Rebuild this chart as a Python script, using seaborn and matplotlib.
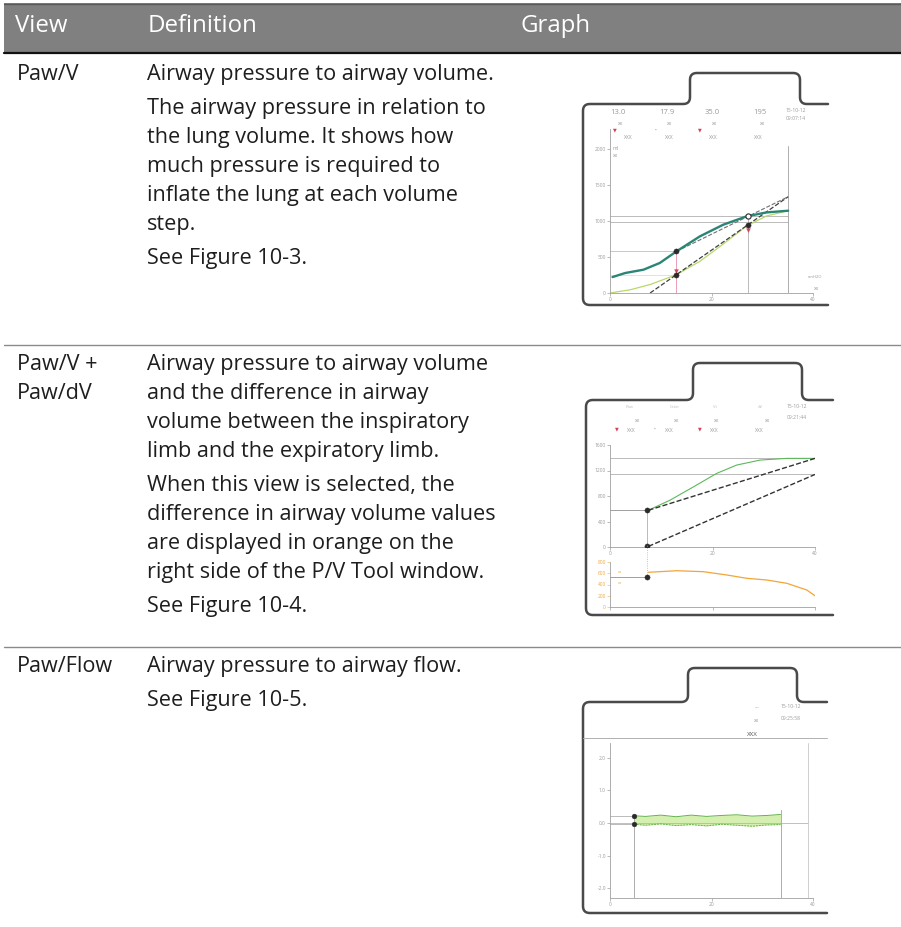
import numpy as np
import matplotlib.pyplot as plt
import seaborn as sns
from matplotlib.patches import Rectangle

sns.set_theme(style="white")
plt.rcParams['font.family'] = ['Open Sans', 'DejaVu Sans']

W, H = 901, 927

# ---- table text ----
header_labels = ["View", "Definition", "Graph"]
view_labels = [["Paw/V"], ["Paw/V +", "Paw/dV"], ["Paw/Flow"]]
definitions = [
    [["Airway pressure to airway volume."],
     ["The airway pressure in relation to", "the lung volume. It shows how",
      "much pressure is required to", "inflate the lung at each volume", "step."],
     ["See Figure 10-3."]],
    [["Airway pressure to airway volume", "and the difference in airway",
      "volume between the inspiratory", "limb and the expiratory limb."],
     ["When this view is selected, the", "difference in airway volume values",
      "are displayed in orange on the", "right side of the P/V Tool window."],
     ["See Figure 10-4."]],
    [["Airway pressure to airway flow."],
     ["See Figure 10-5."]],
]

# ---- graph 1: Paw/V ----
pv_teal_x = [0.5, 3.0, 6.6, 9.8, 13.1, 17.7, 22.3, 26.9, 30.8, 35.1]
pv_teal_y = [222, 278, 324, 417, 579, 787, 949, 1065, 1120, 1144]
pv_green_x = [0.0, 4.0, 8.0, 13.1, 17.7, 22.3, 26.9, 30.8, 35.1]
pv_green_y = [0, 45, 120, 255, 440, 680, 930, 1070, 1144]
pv_dash_lo_x = [7.9, 35.1]
pv_dash_lo_y = [0, 1338]
pv_dash_hi_x = [13.1, 35.1]
pv_dash_hi_y = [579, 1338]
pv_mark_x = [13.1, 13.1, 27.2]
pv_mark_y = [579, 255, 949]
pv_open_x = [27.2]
pv_open_y = [1065]
pv_red_x = [13.1, 27.2]
pv_red_y = [300, 880]
pv_cursor_x = 35.0
pv_hlines = [1065, 981]
pv_yticks = [0, 500, 1000, 1500, 2000]
pv_values = ["13.0", "17.9", "35.0", "195"]
pv_date = ["15-10-12", "09:07:14"]

# ---- graph 2: Paw/V + Paw/dV ----
dv_green_x = [7.5, 11.7, 16.3, 20.8, 24.7, 29.3, 34.5, 40.0]
dv_green_y = [577, 734, 944, 1154, 1285, 1364, 1390, 1390]
dv_dash1_x = [7.5, 40.0]
dv_dash1_y = [577, 1390]
dv_dash2_x = [7.5, 40.0]
dv_dash2_y = [10, 1138]
dv_mark_x = [7.2, 7.2]
dv_mark_y = [577, 10]
dv_hlines = [1390, 1144]
dv_yticks = [0, 400, 800, 1200, 1600]
dv_orange_x = [7.5, 13.0, 18.2, 22.8, 26.7, 30.6, 34.5, 38.4, 40.0]
dv_orange_y = [617, 645, 628, 569, 510, 480, 421, 302, 200]
dv_orange_mark = (7.2, 528)
dv_orange_ticks = [0, 200, 400, 600, 800]
dv_date = ["15-10-12", "09:21:44"]

# ---- graph 3: Paw/Flow ----
fl_x = [4.7, 7.0, 10.0, 13.0, 16.0, 19.0, 22.0, 25.0, 28.0, 31.0, 33.6]
fl_upper = [0.22, 0.20, 0.24, 0.19, 0.24, 0.20, 0.23, 0.25, 0.21, 0.23, 0.26]
fl_lower = [-0.04, -0.07, -0.03, -0.08, -0.05, -0.09, -0.04, -0.07, -0.10, -0.06, -0.05]
fl_yticks = [-2.0, -1.0, 0.0, 1.0, 2.0]
fl_date = ["15-10-12", "09:25:58"]

xticks = [0, 20, 40]

fig = plt.figure(figsize=(W / 100, H / 100), dpi=100)
bg = fig.add_axes([0, 0, 1, 1])
bg.set_xlim(0, W)
bg.set_ylim(H, 0)
bg.axis('off')

# header band
bg.add_patch(Rectangle((4, 3), W - 4, 50, facecolor='#808080', edgecolor='none'))
bg.plot([4, W], [3.5, 3.5], color='#5a5a5a', lw=1)
bg.plot([4, W], [53, 53], color='#111111', lw=1.6)
head_texts = []
for label, hx in zip(header_labels, [15, 148, 520]):
    head_texts.append(bg.text(hx, 23, label, color='white', fontsize=14, va='center_baseline'))

# row separators
for sy in [345, 647]:
    bg.plot([4, W], [sy, sy], color='#8a8a8a', lw=1)

# text rows
body_texts = []
row_tops = [72, 362, 664]
for top, views, paras in zip(row_tops, view_labels, definitions):
    for i, v in enumerate(views):
        body_texts.append(bg.text(17, top + i * 29, v, color='#1e1e1e', fontsize=14,
                                  va='center_baseline'))
    y = top
    for para in paras:
        for line in para:
            body_texts.append(bg.text(147, y, line, color='#1e1e1e', fontsize=14,
                                      va='center_baseline'))
            y += 29
        y += 5

# scale the text so the first definition line spans the same width as in the original
renderer = fig.canvas.get_renderer()
ref_width = body_texts[1].get_window_extent(renderer).width
body_size = 14 * 348 / ref_width
for t in body_texts:
    t.set_fontsize(body_size)
head_width = head_texts[1].get_window_extent(renderer).width
for t in head_texts:
    t.set_fontsize(14 * 110 / head_width)


def rounded(points, r=7):
    pts = np.array(points, float)
    out = [pts[0]]
    for i in range(1, len(pts) - 1):
        p0, p1, p2 = pts[i - 1], pts[i], pts[i + 1]
        d1 = (p1 - p0) / np.linalg.norm(p1 - p0)
        d2 = (p2 - p1) / np.linalg.norm(p2 - p1)
        a, b = p1 - d1 * r, p1 + d2 * r
        t = np.linspace(0, 1, 10)[:, None]
        out.extend((1 - t) ** 2 * a + 2 * (1 - t) * t * p1 + t ** 2 * b)
    out.append(pts[-1])
    return np.array(out)


def frame(left, top, bottom, tab_l, tab_r, tab_top, right):
    pts = [(right, top), (tab_r, top), (tab_r, tab_top), (tab_l, tab_top),
           (tab_l, top), (left, top), (left, bottom), (right, bottom)]
    p = rounded(pts)
    bg.plot(p[:, 0], p[:, 1], color='#4a4a4a', lw=1.8, solid_capstyle='round')


frame(583, 104, 305, 690, 800, 73, 828)
frame(586, 400, 615, 693, 802, 363, 833)
frame(583, 702, 913, 688, 797, 668, 827)


def inset(l, r, t, b):
    ax = fig.add_axes([l / W, 1 - b / H, (r - l) / W, (b - t) / H])
    ax.set_facecolor('none')
    for s in ['top', 'right']:
        ax.spines[s].set_visible(False)
    for s in ['left', 'bottom']:
        ax.spines[s].set_color('#a0a0a0')
        ax.spines[s].set_linewidth(0.6)
    ax.tick_params(axis='both', labelsize=3.5, labelcolor='#9a9a9a', colors='#a0a0a0',
                   length=2, width=0.5, pad=1, left=True, bottom=True)
    ax.set_xlabel('')
    ax.set_ylabel('')
    return ax


small = dict(fontsize=3.6, color='#9a9a9a', ha='center', va='center')
red = '#d2405a'

# ---------- graph 1 ----------
ax1 = inset(610, 813, 129, 293)
ax1.set_xlim(0, 40)
ax1.set_ylim(0, 2280)
ax1.set_xticks(xticks)
ax1.set_yticks(pv_yticks)
for hy in pv_hlines:
    ax1.plot([0, pv_cursor_x], [hy, hy], color='#b0b0b0', lw=0.6)
ax1.plot([0, pv_mark_x[0]], [pv_mark_y[0], pv_mark_y[0]], color='#f0a8b8', lw=0.6)
ax1.plot([0, pv_mark_x[0]], [pv_mark_y[1], pv_mark_y[1]], color='#f4c8d0', lw=0.5)
ax1.plot([pv_cursor_x, pv_cursor_x], [0, 2040], color='#a0a0a0', lw=0.6)
ax1.plot([pv_mark_x[0]] * 2, [0, pv_mark_y[0]], color='#e890a8', lw=0.6)
ax1.plot([pv_open_x[0]] * 2, [0, pv_open_y[0]], color='#b0b0b0', lw=0.6)
sns.lineplot(x=pv_green_x, y=pv_green_y, ax=ax1, color='#b9d86a', lw=0.9)
sns.lineplot(x=pv_dash_lo_x, y=pv_dash_lo_y, ax=ax1, color='#404040', lw=0.9, linestyle='--')
sns.lineplot(x=pv_dash_hi_x, y=pv_dash_hi_y, ax=ax1, color='#707070', lw=0.8, linestyle='--')
sns.lineplot(x=pv_teal_x, y=pv_teal_y, ax=ax1, color='#2b8577', lw=1.7)
sns.scatterplot(x=pv_red_x, y=pv_red_y, ax=ax1, color=red, marker='v', s=8, edgecolor=red, zorder=5)
sns.scatterplot(x=pv_mark_x, y=pv_mark_y, ax=ax1, color='#2a2a2a', s=14, edgecolor='#2a2a2a', zorder=6)
sns.scatterplot(x=pv_open_x, y=pv_open_y, ax=ax1, color='white', s=14, edgecolor='#2a2a2a',
                linewidth=0.8, zorder=6)

for val, vx in zip(pv_values, [618, 667, 712, 760]):
    bg.text(vx, 112, val, fontsize=5.5, color='#9a9a9a', ha='center', va='center')
    bg.text(vx + 3, 123, 'xx', **small)
for mx, col in [(615, red), (656, '#9a9a9a'), (700, red), (745, None)]:
    if col:
        bg.text(mx, 130, '▼' if col == red else '•', fontsize=3.5, color=col, ha='center', va='center')
    bg.text(mx + 13, 137, 'XXX', **small)
bg.text(796, 110, pv_date[0], **small)
bg.text(796, 118, pv_date[1], **small)
bg.text(616, 148, 'ml', **small)
bg.text(616, 155, 'xx', **small)
bg.text(815, 277, 'cmH2O', fontsize=3, color='#9a9a9a', ha='center', va='center')
bg.text(817, 288, 'xx', **small)

# ---------- graph 2 ----------
ax2 = inset(610, 815, 445, 547)
ax2.set_xlim(0, 40)
ax2.set_ylim(0, 1600)
ax2.set_xticks(xticks)
ax2.set_yticks(dv_yticks)
for hy in dv_hlines:
    ax2.plot([0, 40], [hy, hy], color='#b0b0b0', lw=0.6)
ax2.plot([40, 40], [0, 1400], color='#b0b0b0', lw=0.6)
ax2.plot([0, dv_mark_x[0]], [dv_mark_y[0], dv_mark_y[0]], color='#909090', lw=0.6)
ax2.plot([dv_mark_x[0]] * 2, [dv_mark_y[1], dv_mark_y[0]], color='#b0b0b0', lw=0.6)
sns.lineplot(x=dv_green_x, y=dv_green_y, ax=ax2, color='#5cb85c', lw=0.8)
sns.lineplot(x=dv_dash1_x, y=dv_dash1_y, ax=ax2, color='#333333', lw=1.0, linestyle='--')
sns.lineplot(x=dv_dash2_x, y=dv_dash2_y, ax=ax2, color='#333333', lw=1.0, linestyle='--')
sns.scatterplot(x=dv_mark_x, y=dv_mark_y, ax=ax2, color='#2a2a2a', s=14, edgecolor='#2a2a2a', zorder=6)

ax2b = inset(610, 815, 562, 607)
ax2b.set_xlim(0, 40)
ax2b.set_ylim(0, 800)
ax2b.set_xticks(xticks)
ax2b.set_xticklabels([])
ax2b.set_yticks(dv_orange_ticks)
ax2b.tick_params(axis='y', labelcolor='#f0a838', colors='#f0c070')
ax2b.plot([0, dv_orange_mark[0]], [dv_orange_mark[1]] * 2, color='#909090', lw=0.6)
ax2b.plot([dv_orange_mark[0]] * 2, [dv_orange_mark[1], 1100], color='#f0a838', lw=0.6,
          linestyle=':', clip_on=False)
sns.lineplot(x=dv_orange_x, y=dv_orange_y, ax=ax2b, color='#f2a53a', lw=0.9)
sns.scatterplot(x=[dv_orange_mark[0]], y=[dv_orange_mark[1]], ax=ax2b, color='#2a2a2a', s=14,
                edgecolor='#2a2a2a', zorder=6)

for lx, lbl in zip([630, 675, 715, 760], ['Paw', 'Cstat', 'Vt', 'dV']):
    bg.text(lx, 407, lbl, fontsize=3, color='#c0c0c0', ha='center', va='center')
for lx in [638, 677, 717, 768]:
    bg.text(lx, 420, 'xx', **small)
for mx, col in [(617, red), (655, '#9a9a9a'), (700, red), (745, None)]:
    if col:
        bg.text(mx, 429, '▼' if col == red else '•', fontsize=3.5, color=col, ha='center', va='center')
    bg.text(mx + 14, 430, 'XXX', **small)
bg.text(797, 407, dv_date[0], **small)
bg.text(797, 417, dv_date[1], **small)
bg.text(620, 572, 'xx', fontsize=3, color='#f0a838', ha='center', va='center')
bg.text(620, 583, 'xx', fontsize=3, color='#f0a838', ha='center', va='center')

# ---------- graph 3 ----------
bg.plot([583, 827], [738, 738], color='#b0b0b0', lw=0.7)
ax3 = inset(610, 813, 743, 898)
ax3.set_xlim(0, 40)
ax3.set_ylim(-2.3, 2.45)
ax3.set_xticks(xticks)
ax3.set_yticks(fl_yticks)
ax3.set_yticklabels([f'{v:.1f}' for v in fl_yticks])
ax3.plot([0, 39], [0, 0], color='#a8b8d0', lw=0.6)
ax3.plot([39, 39], [-2.3, 2.45], color='#c8c8c8', lw=0.6)
ax3.plot([fl_x[0]] * 2, [-2.3, fl_upper[0]], color='#a0a0a0', lw=0.6)
ax3.plot([fl_x[-1]] * 2, [-2.3, 0.4], color='#a0a0a0', lw=0.6)
ax3.plot([0, fl_x[0]], [fl_upper[0]] * 2, color='#a0a0a0', lw=0.5)
ax3.plot([0, fl_x[0]], [fl_lower[0]] * 2, color='#a0a0a0', lw=0.5)
ax3.fill_between(fl_x, fl_lower, fl_upper, color='#d4efb0', lw=0)
sns.lineplot(x=fl_x, y=fl_upper, ax=ax3, color='#62b24a', lw=0.7)
sns.lineplot(x=fl_x, y=fl_lower, ax=ax3, color='#62b24a', lw=0.7, linestyle=(0, (2, 1)))
sns.scatterplot(x=[fl_x[0], fl_x[0]], y=[fl_upper[0], fl_lower[0]], ax=ax3, color='#2a2a2a',
                s=12, edgecolor='#2a2a2a', zorder=6)
bg.text(757, 708, '---', **small)
bg.text(791, 707, fl_date[0], **small)
bg.text(791, 718, fl_date[1], **small)
bg.text(757, 720, 'xx', **small)
bg.text(752, 734, 'XXX', fontsize=4.5, color='#555555', ha='center', va='center')

fig.savefig('out.png', dpi=100)
